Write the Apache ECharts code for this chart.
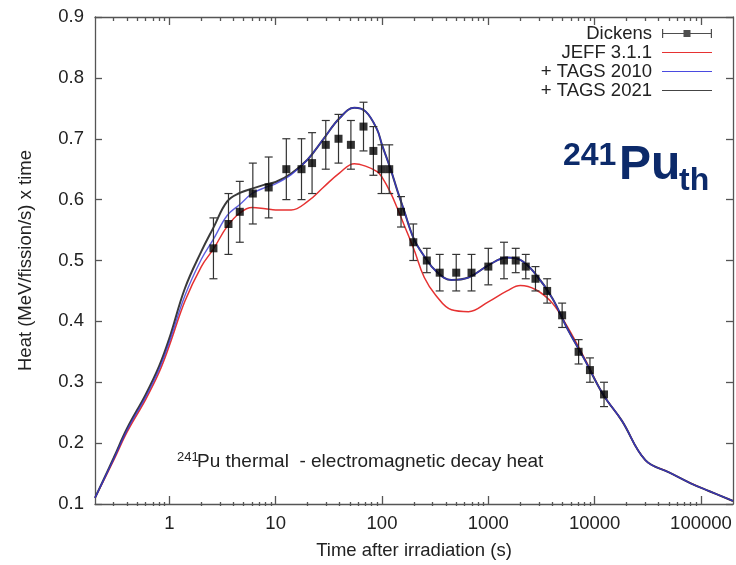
<!DOCTYPE html>
<html><head><meta charset="utf-8">
<script src="https://cdn.jsdelivr.net/npm/echarts@6/dist/echarts.min.js"></script>
<style>html,body{margin:0;padding:0;background:#fff}#c{width:736px;height:565px}</style>
</head><body><div id="c"></div>
<script>
// ---- data ----
const timeGrid = [0.2, 0.3, 0.4, 0.6, 0.8, 1, 1.4, 2, 2.6, 3.5, 4.6, 6, 8, 10, 14, 20, 28, 40, 55, 70, 90, 100, 120, 140, 160, 200, 250, 320, 450, 650, 1000, 1500, 2000, 2800, 4000, 5500, 8000, 12000, 18000, 30000, 50000, 80000, 120000, 200000];
const jeff311 = [0.11, 0.172, 0.218, 0.272, 0.316, 0.360, 0.433, 0.490, 0.519, 0.556, 0.578, 0.587, 0.585, 0.583, 0.583, 0.597, 0.620, 0.644, 0.659, 0.655, 0.646, 0.637, 0.612, 0.585, 0.560, 0.518, 0.472, 0.443, 0.419, 0.416, 0.432, 0.450, 0.459, 0.452, 0.430, 0.392, 0.340, 0.280, 0.237, 0.172, 0.152, 0.134, 0.121, 0.105];
const tags2010 = [0.11, 0.174, 0.221, 0.276, 0.321, 0.366, 0.442, 0.502, 0.535, 0.574, 0.592, 0.610, 0.620, 0.626, 0.641, 0.666, 0.699, 0.734, 0.751, 0.745, 0.715, 0.690, 0.651, 0.614, 0.584, 0.535, 0.507, 0.483, 0.468, 0.472, 0.492, 0.505, 0.501, 0.477, 0.438, 0.389, 0.338, 0.280, 0.237, 0.172, 0.152, 0.134, 0.121, 0.105];
const tags2021 = [0.11, 0.176, 0.224, 0.280, 0.326, 0.372, 0.454, 0.515, 0.554, 0.597, 0.611, 0.618, 0.625, 0.629, 0.643, 0.666, 0.699, 0.734, 0.751, 0.745, 0.715, 0.690, 0.651, 0.614, 0.584, 0.535, 0.507, 0.483, 0.468, 0.472, 0.492, 0.505, 0.501, 0.477, 0.438, 0.389, 0.338, 0.280, 0.237, 0.172, 0.152, 0.134, 0.121, 0.105];

const dickensTime = [2.6, 3.6, 4.6, 6.1, 8.6, 12.6, 17.5, 22, 29.6, 39, 51, 67, 83, 99, 117, 151, 197, 264, 349, 499, 695, 1000, 1404, 1810, 2250, 2776, 3575, 4945, 7063, 9030, 12250];
const dickensHeat = [0.52, 0.56, 0.58, 0.61, 0.62, 0.65, 0.65, 0.66, 0.69, 0.70, 0.69, 0.72, 0.68, 0.65, 0.65, 0.58, 0.53, 0.50, 0.48, 0.48, 0.48, 0.49, 0.50, 0.50, 0.49, 0.47, 0.45, 0.41, 0.35, 0.32, 0.28];
const dickensErr = [0.05, 0.05, 0.05, 0.05, 0.05, 0.05, 0.05, 0.05, 0.04, 0.04, 0.04, 0.04, 0.04, 0.04, 0.04, 0.025, 0.03, 0.02, 0.03, 0.03, 0.03, 0.03, 0.03, 0.02, 0.02, 0.02, 0.02, 0.02, 0.02, 0.02, 0.02];

const xMajorTicks = [1, 10, 100, 1000, 10000, 100000];
const xMinorTicks = [];
[0.1, 1, 10, 100, 1000, 10000].forEach(d => { for (let k = 2; k <= 9; k++) { const v = d * k; if (v > 0.2 && v < 200000) xMinorTicks.push(v); } });
const yTickLabels = ['0.1','0.2','0.3','0.4','0.5','0.6','0.7','0.8','0.9'];

const FONT = '"Liberation Sans", Arial, Helvetica, sans-serif';
const TXT = '#222';
const frameLine = { color: '#555', width: 1.3 };
const X_MIN = 0.2, X_MAX = 200000;

const pairs = (xs, ys) => xs.map((x, i) => [x, ys[i]]);

function logAxis(grid, pos, ticks, len, showLine, extra) {
  return Object.assign({
    gridIndex: grid, type: 'log', logBase: 10, min: X_MIN, max: X_MAX, position: pos,
    axisLine: { show: showLine, onZero: false, lineStyle: frameLine },
    axisTick: { show: true, inside: true, length: len, customValues: ticks, lineStyle: frameLine },
    axisLabel: { show: false },
    splitLine: { show: false }, minorTick: { show: false }
  }, extra || {});
}

// legend icons: a thin horizontal bar (zero-area sub-paths only stretch the box to full height)
const LINE_ICON = 'path://M0,0L50,0L50,0Z M0,4.4L50,4.4L50,5.6L0,5.6Z M0,10L50,10L50,10Z';
const ERR_ICON = 'path://M0,0L50,0L50,0Z M0,4.4L50,4.4L50,5.6L0,5.6Z M0,0.5L1.2,0.5L1.2,9.5L0,9.5Z M48.8,0.5L50,0.5L50,9.5L48.8,9.5Z M21.5,1.5L28.5,1.5L28.5,8.5L21.5,8.5Z M0,10L50,10L50,10Z';

const chart = echarts.init(document.getElementById('c'), null, { renderer: 'canvas' });
const option = {
  animation: false,
  backgroundColor: '#fff',
  textStyle: { fontFamily: FONT },
  grid: [
    { left: 95, top: 17, right: 3, bottom: 59 },
    { left: 95, top: 17, right: 3, bottom: 59 }
  ],
  xAxis: [
    logAxis(0, 'bottom', xMajorTicks, 8, true, {
      axisLabel: { show: true, customValues: xMajorTicks, margin: 10, fontSize: 18.5, color: TXT, fontFamily: FONT,
        formatter: v => String(Math.round(v)) },
      name: 'Time after irradiation (s)', nameLocation: 'middle', nameGap: 37,
      nameTextStyle: { fontSize: 18.5, color: TXT, fontFamily: FONT }
    }),
    logAxis(0, 'top', xMajorTicks, 8, true),
    logAxis(1, 'bottom', xMinorTicks, 4, false),
    logAxis(1, 'top', xMinorTicks, 4, false)
  ],
  yAxis: [
    { gridIndex: 0, type: 'value', min: 0.1, max: 0.9, interval: 0.1, position: 'left',
      axisLine: { show: true, onZero: false, lineStyle: frameLine },
      axisTick: { inside: true, length: 7, lineStyle: frameLine },
      axisLabel: { margin: 11, fontSize: 18.5, color: TXT, fontFamily: FONT,
        formatter: v => yTickLabels[Math.round(v * 10) - 1] },
      splitLine: { show: false },
      name: 'Heat (MeV/fission/s) x time', nameLocation: 'middle', nameGap: 60,
      nameTextStyle: { fontSize: 18.5, color: TXT, fontFamily: FONT } },
    { gridIndex: 0, type: 'value', min: 0.1, max: 0.9, interval: 0.1, position: 'right',
      axisLine: { show: true, onZero: false, lineStyle: frameLine },
      axisTick: { inside: true, length: 7, lineStyle: frameLine },
      axisLabel: { show: false }, splitLine: { show: false } },
    { gridIndex: 1, type: 'value', min: 0.1, max: 0.9, show: false, splitLine: { show: false } }
  ],
  legend: {
    orient: 'vertical', right: 24, top: 24, align: 'right', padding: 0,
    itemWidth: 50, itemHeight: 10, itemGap: 0, selectedMode: false,
    textStyle: { fontSize: 18.5, color: TXT, fontFamily: FONT, lineHeight: 19, padding: [0, 5, 0, 0] },
    data: [
      { name: 'Dickens', icon: ERR_ICON, itemStyle: { color: '#222', borderWidth: 0 } },
      { name: 'JEFF 3.1.1', icon: LINE_ICON, itemStyle: { color: '#e63232', borderWidth: 0 } },
      { name: '+ TAGS 2010', icon: LINE_ICON, itemStyle: { color: '#4a4ae0', borderWidth: 0 } },
      { name: '+ TAGS 2021', icon: LINE_ICON, itemStyle: { color: '#444', borderWidth: 0 } }
    ]
  },
  series: [
    { name: 'Dickens', type: 'scatter', xAxisIndex: 0, yAxisIndex: 0, z: 6,
      symbol: 'rect', symbolSize: 8, itemStyle: { color: '#000' },
      data: pairs(dickensTime, dickensHeat) },
    { name: 'Dickens', type: 'custom', xAxisIndex: 0, yAxisIndex: 0, z: 5,
      data: dickensTime.map((t, i) => [t, dickensHeat[i], dickensErr[i]]),
      encode: { x: 0, y: 1 },
      renderItem: function (params, api) {
        const t = api.value(0), v = api.value(1), e = api.value(2);
        const hi = api.coord([t, v + e]), lo = api.coord([t, v - e]);
        const w = 4;
        const st = { stroke: '#333', lineWidth: 1.2 };
        return { type: 'group', children: [
          { type: 'line', shape: { x1: hi[0], y1: hi[1], x2: lo[0], y2: lo[1] }, style: st },
          { type: 'line', shape: { x1: hi[0] - w, y1: hi[1], x2: hi[0] + w, y2: hi[1] }, style: st },
          { type: 'line', shape: { x1: lo[0] - w, y1: lo[1], x2: lo[0] + w, y2: lo[1] }, style: st }
        ] };
      } },
    { name: 'JEFF 3.1.1', type: 'line', xAxisIndex: 0, yAxisIndex: 0, z: 3, smooth: 0.4,
      symbol: 'none', showSymbol: false, color: '#e63232',
      lineStyle: { color: '#e63232', width: 1.5 }, data: pairs(timeGrid, jeff311) },
    { name: '+ TAGS 2021', type: 'line', xAxisIndex: 0, yAxisIndex: 0, z: 3, smooth: 0.4,
      symbol: 'none', showSymbol: false, color: '#3a3a3a',
      lineStyle: { color: '#3a3a3a', width: 2 }, data: pairs(timeGrid, tags2021) },
    { name: '+ TAGS 2010', type: 'line', xAxisIndex: 0, yAxisIndex: 0, z: 4, smooth: 0.4,
      symbol: 'none', showSymbol: false, color: '#3636d8',
      lineStyle: { color: '#3636d8', width: 1.4, opacity: 0.8 }, data: pairs(timeGrid, tags2010) }
  ],
  graphic: [
    { type: 'text', x: 177, y: 457, z: 10, style: { text: '241', fontSize: 13, fontFamily: FONT, fill: TXT, align: 'left', verticalAlign: 'middle' } },
    { type: 'text', x: 197, y: 462, z: 10, style: { text: 'Pu thermal  - electromagnetic decay heat', fontSize: 19, fontFamily: FONT, fill: TXT, align: 'left', verticalAlign: 'middle' } },
    { type: 'text', x: 563, y: 156, z: 10, style: { text: '241', fontSize: 32, fontWeight: 'bold', fontFamily: FONT, fill: '#0c2a6a', align: 'left', verticalAlign: 'middle' } },
    { type: 'text', x: 619, y: 165.5, z: 10, style: { text: 'Pu', fontSize: 48, fontWeight: 'bold', fontFamily: FONT, fill: '#0c2a6a', align: 'left', verticalAlign: 'middle' } },
    { type: 'text', x: 679, y: 181.5, z: 10, style: { text: 'th', fontSize: 32, fontWeight: 'bold', fontFamily: FONT, fill: '#0c2a6a', align: 'left', verticalAlign: 'middle' } }
  ]
};
chart.setOption(option);
</script>
</body></html>
